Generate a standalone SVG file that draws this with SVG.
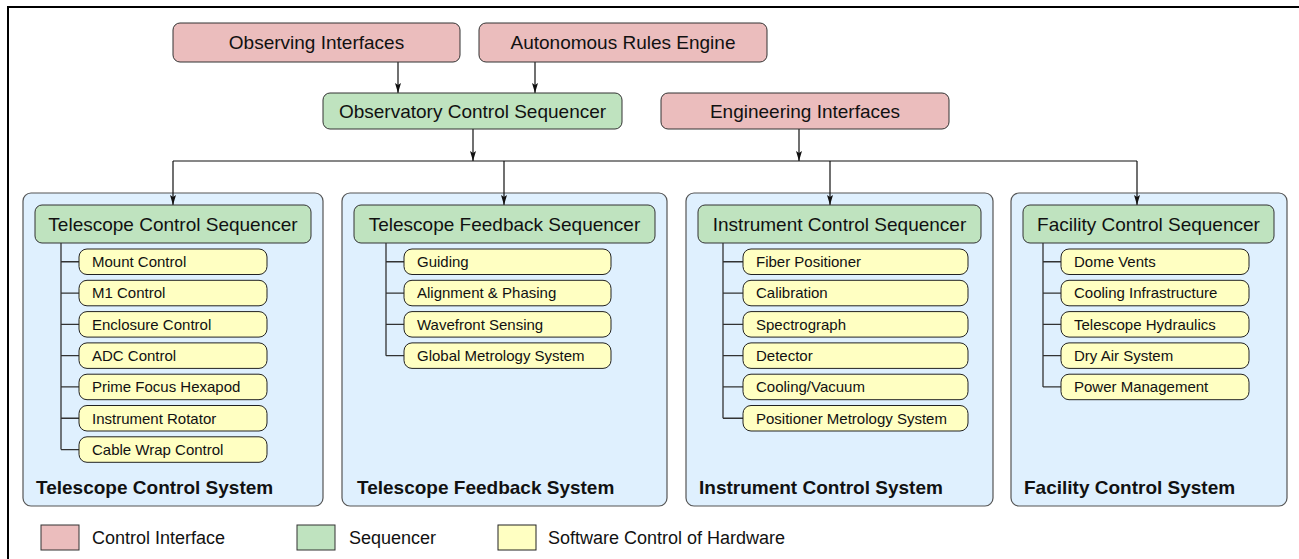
<svg xmlns="http://www.w3.org/2000/svg" width="1299" height="559" viewBox="0 0 1299 559">
<style>
text{font-family:"Liberation Sans",Arial,sans-serif;fill:#111}
.ci{fill:#EBBDBD;stroke:#333;stroke-width:1}
.sq{fill:#BFE3BF;stroke:#333;stroke-width:1}
.hw{fill:#FFFFC2;stroke:#222;stroke-width:1}
.panel{fill:#DFF0FE;stroke:#555;stroke-width:1.2}
.big{font-size:19px;text-anchor:middle}
.item{font-size:15px}
.plabel{font-size:19px;font-weight:bold}
.leg{font-size:18px}
.conn{stroke:#111;stroke-width:1.2;fill:none}
.tree{stroke:#333;stroke-width:1.3;fill:none}
</style>
<defs>
<marker id="arr" markerUnits="userSpaceOnUse" markerWidth="10" markerHeight="6" refX="10" refY="3" orient="auto" viewBox="0 0 10 6">
<path d="M0,0 L10,3 L0,6 L2,3 Z" fill="#111"/>
</marker>
</defs>
<rect x="8" y="7" width="1400" height="700" fill="#fff" stroke="#000" stroke-width="2"/>

<g id="panels">
<rect class="panel" x="23" y="193" width="300" height="313" rx="8"/>
<rect class="panel" x="342" y="193" width="325" height="313" rx="8"/>
<rect class="panel" x="686" y="193" width="307" height="313" rx="8"/>
<rect class="panel" x="1011" y="193" width="276" height="313" rx="8"/>
<text class="plabel" x="36" y="494">Telescope Control System</text>
<text class="plabel" x="357" y="494">Telescope Feedback System</text>
<text class="plabel" x="699" y="494">Instrument Control System</text>
<text class="plabel" x="1024" y="494">Facility Control System</text>
</g>

<g id="connectors">
<path class="conn" d="M398,62 V93" marker-end="url(#arr)"/>
<path class="conn" d="M535,62 V93" marker-end="url(#arr)"/>
<path class="conn" d="M473,129 V161" marker-end="url(#arr)"/>
<path class="conn" d="M799,129 V161" marker-end="url(#arr)"/>
<path class="conn" d="M173,161 H1137"/>
<path class="conn" d="M173,161 V205" marker-end="url(#arr)"/>
<path class="conn" d="M504,161 V205" marker-end="url(#arr)"/>
<path class="conn" d="M830,161 V205" marker-end="url(#arr)"/>
<path class="conn" d="M1137,161 V205" marker-end="url(#arr)"/>
<path class="tree" d="M61,243 V449.55 M61,261.75 H79 M61,293.05 H79 M61,324.35 H79 M61,355.65 H79 M61,386.95 H79 M61,418.25 H79 M61,449.55 H79"/>
<path class="tree" d="M386,243 V355.65 M386,261.75 H404 M386,293.05 H404 M386,324.35 H404 M386,355.65 H404"/>
<path class="tree" d="M723,243 V418.25 M723,261.75 H743 M723,293.05 H743 M723,324.35 H743 M723,355.65 H743 M723,386.95 H743 M723,418.25 H743"/>
<path class="tree" d="M1043,243 V386.95 M1043,261.75 H1061 M1043,293.05 H1061 M1043,324.35 H1061 M1043,355.65 H1061 M1043,386.95 H1061"/>
</g>

<g id="observing-interfaces"><rect class="ci" x="173" y="23" width="287" height="39" rx="7"/><text class="big" x="316.5" y="49">Observing Interfaces</text></g>
<g id="autonomous-rules-engine"><rect class="ci" x="479" y="23" width="288" height="39" rx="7"/><text class="big" x="623" y="49">Autonomous Rules Engine</text></g>
<g id="observatory-control-sequencer"><rect class="sq" x="323" y="93" width="299" height="36" rx="7"/><text class="big" x="472.5" y="118">Observatory Control Sequencer</text></g>
<g id="engineering-interfaces"><rect class="ci" x="661" y="93" width="288" height="36" rx="7"/><text class="big" x="805" y="118">Engineering Interfaces</text></g>

<g id="telescope-control-sequencer"><rect class="sq" x="35" y="205" width="276" height="38" rx="7"/><text class="big" x="173" y="231">Telescope Control Sequencer</text></g>
<g id="telescope-feedback-sequencer"><rect class="sq" x="354" y="205" width="301" height="38" rx="7"/><text class="big" x="504.5" y="231">Telescope Feedback Sequencer</text></g>
<g id="instrument-control-sequencer"><rect class="sq" x="698" y="205" width="283" height="38" rx="7"/><text class="big" x="839.5" y="231">Instrument Control Sequencer</text></g>
<g id="facility-control-sequencer"><rect class="sq" x="1023" y="205" width="251" height="38" rx="7"/><text class="big" x="1148.5" y="231">Facility Control Sequencer</text></g>

<g id="tcs-items">
<g id="mount-control"><rect class="hw" x="79" y="249" width="188" height="25.5" rx="8"/><text class="item" x="92" y="267">Mount Control</text></g>
<g id="m1-control"><rect class="hw" x="79" y="280.3" width="188" height="25.5" rx="8"/><text class="item" x="92" y="298.3">M1 Control</text></g>
<g id="enclosure-control"><rect class="hw" x="79" y="311.6" width="188" height="25.5" rx="8"/><text class="item" x="92" y="329.6">Enclosure Control</text></g>
<g id="adc-control"><rect class="hw" x="79" y="342.9" width="188" height="25.5" rx="8"/><text class="item" x="92" y="360.9">ADC Control</text></g>
<g id="prime-focus-hexapod"><rect class="hw" x="79" y="374.2" width="188" height="25.5" rx="8"/><text class="item" x="92" y="392.2">Prime Focus Hexapod</text></g>
<g id="instrument-rotator"><rect class="hw" x="79" y="405.5" width="188" height="25.5" rx="8"/><text class="item" x="92" y="423.5">Instrument Rotator</text></g>
<g id="cable-wrap-control"><rect class="hw" x="79" y="436.8" width="188" height="25.5" rx="8"/><text class="item" x="92" y="454.8">Cable Wrap Control</text></g>
</g>

<g id="tfs-items">
<g id="guiding"><rect class="hw" x="404" y="249" width="207" height="25.5" rx="8"/><text class="item" x="417" y="267">Guiding</text></g>
<g id="alignment-phasing"><rect class="hw" x="404" y="280.3" width="207" height="25.5" rx="8"/><text class="item" x="417" y="298.3">Alignment &amp; Phasing</text></g>
<g id="wavefront-sensing"><rect class="hw" x="404" y="311.6" width="207" height="25.5" rx="8"/><text class="item" x="417" y="329.6">Wavefront Sensing</text></g>
<g id="global-metrology-system"><rect class="hw" x="404" y="342.9" width="207" height="25.5" rx="8"/><text class="item" x="417" y="360.9">Global Metrology System</text></g>
</g>

<g id="ics-items">
<g id="fiber-positioner"><rect class="hw" x="743" y="249" width="225" height="25.5" rx="8"/><text class="item" x="756" y="267">Fiber Positioner</text></g>
<g id="calibration"><rect class="hw" x="743" y="280.3" width="225" height="25.5" rx="8"/><text class="item" x="756" y="298.3">Calibration</text></g>
<g id="spectrograph"><rect class="hw" x="743" y="311.6" width="225" height="25.5" rx="8"/><text class="item" x="756" y="329.6">Spectrograph</text></g>
<g id="detector"><rect class="hw" x="743" y="342.9" width="225" height="25.5" rx="8"/><text class="item" x="756" y="360.9">Detector</text></g>
<g id="cooling-vacuum"><rect class="hw" x="743" y="374.2" width="225" height="25.5" rx="8"/><text class="item" x="756" y="392.2">Cooling/Vacuum</text></g>
<g id="positioner-metrology-system"><rect class="hw" x="743" y="405.5" width="225" height="25.5" rx="8"/><text class="item" x="756" y="423.5">Positioner Metrology System</text></g>
</g>

<g id="fcs-items">
<g id="dome-vents"><rect class="hw" x="1061" y="249" width="188" height="25.5" rx="8"/><text class="item" x="1074" y="267">Dome Vents</text></g>
<g id="cooling-infrastructure"><rect class="hw" x="1061" y="280.3" width="188" height="25.5" rx="8"/><text class="item" x="1074" y="298.3">Cooling Infrastructure</text></g>
<g id="telescope-hydraulics"><rect class="hw" x="1061" y="311.6" width="188" height="25.5" rx="8"/><text class="item" x="1074" y="329.6">Telescope Hydraulics</text></g>
<g id="dry-air-system"><rect class="hw" x="1061" y="342.9" width="188" height="25.5" rx="8"/><text class="item" x="1074" y="360.9">Dry Air System</text></g>
<g id="power-management"><rect class="hw" x="1061" y="374.2" width="188" height="25.5" rx="8"/><text class="item" x="1074" y="392.2">Power Management</text></g>
</g>

<g id="legend">
<rect class="ci" x="41" y="525" width="38" height="25"/><text class="leg" x="92" y="544">Control Interface</text>
<rect class="sq" x="297" y="525" width="38" height="25"/><text class="leg" x="349" y="544">Sequencer</text>
<rect class="hw" x="498" y="525" width="38" height="25"/><text class="leg" x="548" y="544">Software Control of Hardware</text>
</g>
</svg>
